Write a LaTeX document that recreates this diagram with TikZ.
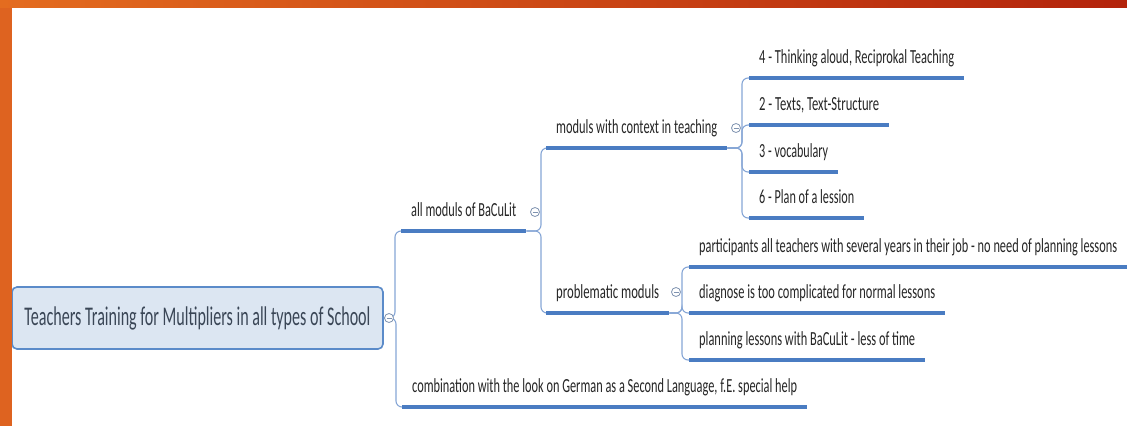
\documentclass[tikz,border=0pt]{standalone}
\usepackage{fontspec}
\setmainfont{Carlito}
\usepackage{graphicx}
\definecolor{orA}{HTML}{E46C1F}
\definecolor{orB}{HTML}{B3230B}
\definecolor{orL}{HTML}{DE6320}
\definecolor{rootfill}{HTML}{DCE6F2}
\definecolor{rootborder}{HTML}{5B8BC9}
\definecolor{roottext}{HTML}{3A4656}
\definecolor{topictext}{HTML}{262626}
\definecolor{ulblue}{HTML}{4A7CC2}
\definecolor{connblue}{HTML}{86A6D6}
\definecolor{knob}{HTML}{7F93B0}
\newcommand\fw[2]{\resizebox{#1pt}{\height}{#2}}
\tikzset{
  rootbox/.style={draw=rootborder, line width=1.6pt, fill=rootfill, rounded corners=5pt,
    minimum width=371pt, minimum height=62pt, inner sep=0pt,
    font=\fontsize{27}{30}\selectfont, text=roottext},
  topic/.style={anchor=south west, inner xsep=10pt, inner ysep=0pt,
    text height=14pt, text depth=14pt, font=\fontsize{20}{23}\selectfont, text=topictext},
  uline/.style={draw=ulblue, line width=4pt},
  conn/.style={draw=connblue, line width=1.1pt, rounded corners=6pt},
  knobc/.style={circle, draw=knob, line width=0.8pt, fill=white, minimum size=9pt, inner sep=0pt,
    path picture={\draw[knob, line width=0.8pt] ([xshift=2pt]path picture bounding box.west) -- ([xshift=-2pt]path picture bounding box.east);}}
}
\begin{document}
\begin{tikzpicture}[x=1pt,y=-1pt]
\useasboundingbox (0,0) rectangle (1127,426);
\fill[white] (0,0) rectangle (1127,426);

% root
\node[rootbox] (root) at (197.5,318) {\fw{346}{Teachers Training for Multipliers in all types of School}};

% level 1
\node[topic] (all)  at (401,231) {\fw{105}{all moduls of BaCuLit}};
\node[topic] (comb) at (402,407) {\fw{385}{combination with the look on German as a Second Language, f.E. special help}};

% level 2
\node[topic] (ctx)  at (546,148) {\fw{161}{moduls with context in teaching}};
\node[topic] (prob) at (546,313) {\fw{103}{problematic moduls}};

% level 3 (context)
\node[topic] (t4) at (749,78)  {\fw{195}{4 - Thinking aloud, Reciprokal Teaching}};
\node[topic] (t2) at (749,125) {\fw{120}{2 - Texts, Text-Structure}};
\node[topic] (t3) at (749,172) {\fw{69}{3 - vocabulary}};
\node[topic] (t6) at (749,218) {\fw{95}{6 - Plan of a lession}};

% level 3 (problematic)
\node[topic] (p1) at (689,267) {\fw{418}{participants all teachers with several years in their job - no need of planning lessons}};
\node[topic] (p2) at (689,313) {\fw{236}{diagnose is too complicated for normal lessons}};
\node[topic] (p3) at (689,360) {\fw{216}{planning lessons with BaCuLit - less of time}};

% connectors
\foreach \c in {all,comb}
  \draw[conn] (root.east) -| ([xshift=-6pt]\c.south west) -- (\c.south west);
\foreach \c in {ctx,prob}
  \draw[conn] (all.south east) -| ([xshift=-5pt]\c.south west) -- (\c.south west);
\foreach \c in {t4,t2,t3,t6}
  \draw[conn] (ctx.south east) -| ([xshift=-7pt]\c.south west) -- (\c.south west);
\foreach \c in {p1,p2,p3}
  \draw[conn] (prob.south east) -| ([xshift=-7pt]\c.south west) -- (\c.south west);

% underlines
\foreach \n in {all,comb,ctx,prob,t4,t2,t3,t6,p1,p2,p3}
  \draw[uline] (\n.south west) -- (\n.south east);

% collapse knobs
\node[knobc] (k0) at (389,318) {};
\node[knobc] (k1) at (535,212) {};
\node[knobc] (k2) at (736,128) {};
\node[knobc] (k3) at (676,292) {};

% frame bars
\fill[orL] (0,0) rectangle (12,426);
\shade[left color=orA, right color=orB] (0,0) rectangle (1127,7);
\end{tikzpicture}
\end{document}
